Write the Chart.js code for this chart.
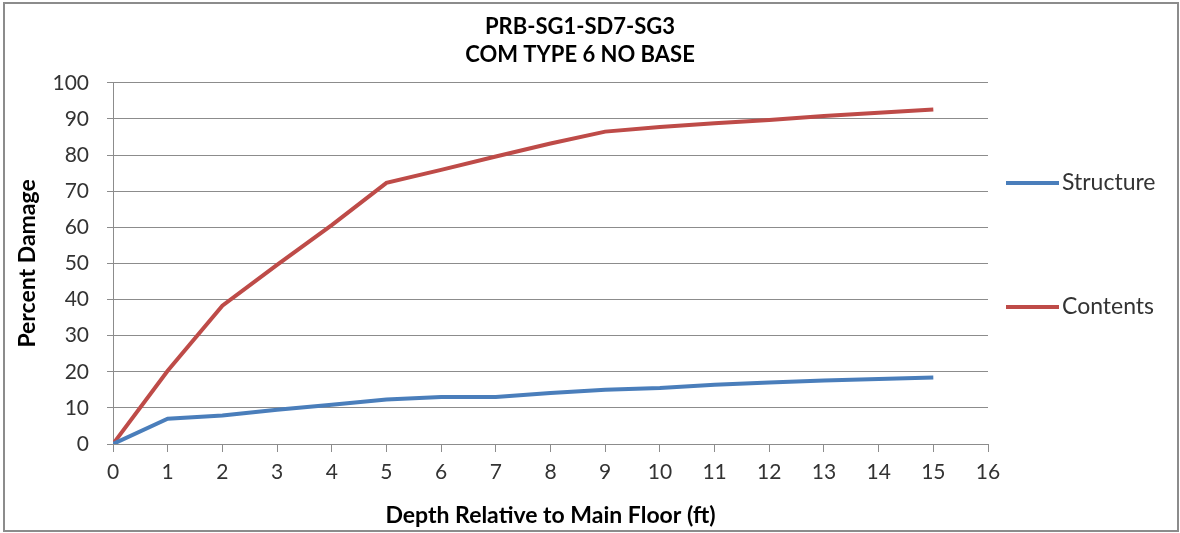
<!DOCTYPE html>
<html><head><meta charset="utf-8">
<script src="https://cdn.jsdelivr.net/npm/chart.js@4.4.1/dist/chart.umd.min.js"></script>
<style>
html,body{margin:0;padding:0;background:#fff;width:1180px;height:533px;overflow:hidden;}
#frame{position:absolute;left:3px;top:2px;width:1176px;height:530px;border:2px solid #8c8c8c;box-sizing:border-box;}
#wrap{position:absolute;left:0;top:0;width:1160px;height:533px;}
</style></head><body>
<div id="frame"></div>
<div id="wrap"><canvas id="c" width="1160" height="533"></canvas></div>
<script>
const titleLines = ['PRB-SG1-SD7-SG3', 'COM TYPE 6 NO BASE'];
const xTitle = 'Depth Relative to Main Floor (ft)';
const yTitle = 'Percent Damage';
const seriesNames = ['Structure', 'Contents'];
const depths = [0, 1, 2, 3, 4, 5, 6, 7, 8, 9, 10, 11, 12, 13, 14, 15];
const structure = [0, 7.0, 7.9, 9.5, 10.9, 12.3, 13.0, 13.0, 14.1, 15.0, 15.5, 16.4, 17.0, 17.6, 18.0, 18.4];
const contents = [0, 20.3, 38.3, 49.6, 60.6, 72.3, 75.9, 79.6, 83.2, 86.5, 87.8, 88.8, 89.7, 90.8, 91.7, 92.6];
const xTickLabels = [0, 1, 2, 3, 4, 5, 6, 7, 8, 9, 10, 11, 12, 13, 14, 15, 16];
const yTickLabels = [0, 10, 20, 30, 40, 50, 60, 70, 80, 90, 100];

const colors = ['#4a7ebb', '#be4b48'];
const gridColor = '#8c8c8c';
const FONT = 'Lato, "Open Sans", sans-serif';

const toPoints = (ys) => depths.map((d, i) => ({x: d, y: ys[i]}));

// Right-hand legend as a real layout box (reserves its width like Chart.js's own legend)
const sideLegend = {
  id: 'sideLegend',
  beforeInit(chart) {
    const box = {
      position: 'right',
      weight: 1000,
      fullSize: true,
      options: {},
      left: 0, top: 0, right: 0, bottom: 0, width: 0, height: 0,
      isHorizontal() { return false; },
      update(maxWidth, maxHeight) { this.width = 172; this.height = maxHeight; },
      getPadding() { return {left: 0, top: 0, right: 0, bottom: 0}; },
      draw() {
        const ctx = chart.ctx;
        const ys = [183, 307];
        const x0 = this.left + 18;
        ctx.save();
        chart.data.datasets.forEach((ds, i) => {
          const y = ys[i];
          ctx.strokeStyle = ds.borderColor;
          ctx.lineWidth = 4;
          ctx.lineCap = 'butt';
          ctx.beginPath();
          ctx.moveTo(x0, y);
          ctx.lineTo(x0 + 53, y);
          ctx.stroke();
          ctx.fillStyle = '#333333';
          ctx.font = '23px ' + FONT;
          ctx.textBaseline = 'middle';
          ctx.textAlign = 'left';
          ctx.fillText(ds.label, x0 + 56, y);
        });
        ctx.restore();
      }
    };
    Chart.layouts.addBox(chart, box);
  }
};

new Chart(document.getElementById('c'), {
  type: 'line',
  data: {
    datasets: [
      {label: seriesNames[0], data: toPoints(structure), borderColor: colors[0], backgroundColor: colors[0], borderWidth: 4, pointRadius: 0, tension: 0},
      {label: seriesNames[1], data: toPoints(contents), borderColor: colors[1], backgroundColor: colors[1], borderWidth: 4, pointRadius: 0, tension: 0}
    ]
  },
  options: {
    responsive: false,
    animation: false,
    devicePixelRatio: 1,
    layout: {padding: {left: 0, right: 0, top: 0, bottom: 0}},
    plugins: {
      legend: {display: false},
      tooltip: {enabled: false},
      title: {
        display: true,
        text: titleLines,
        color: '#000',
        font: {family: FONT, size: 22, weight: 'bold', lineHeight: 1.27},
        padding: {top: 13, bottom: 14}
      }
    },
    scales: {
      x: {
        type: 'linear',
        min: 0, max: 16,
        afterBuildTicks: (s) => { s.ticks = xTickLabels.map(v => ({value: v})); },
        afterFit: (s) => { s.height = 89; },
        grid: {drawOnChartArea: false, drawTicks: true, tickLength: 8, color: gridColor, lineWidth: 1},
        border: {color: gridColor, width: 1},
        ticks: {color: '#333333', font: {family: FONT, size: 21}, padding: 8, maxRotation: 0, autoSkip: false},
        title: {display: true, text: xTitle, color: '#000', font: {family: FONT, size: 23, weight: 'bold'}, padding: {top: 4, bottom: 4}}
      },
      y: {
        min: 0, max: 100,
        afterBuildTicks: (s) => { s.ticks = yTickLabels.map(v => ({value: v})); },
        afterFit: (s) => { s.width = 113; },
        grid: {drawOnChartArea: true, drawTicks: true, tickLength: 6, color: gridColor, lineWidth: 1},
        border: {color: gridColor, width: 1},
        ticks: {color: '#333333', font: {family: FONT, size: 21}, padding: 18},
        title: {display: true, text: yTitle, color: '#000', font: {family: FONT, size: 23, weight: 'bold'}, padding: {top: 14, bottom: 14}}
      }
    }
  },
  plugins: [sideLegend]
});
</script>
</body></html>
